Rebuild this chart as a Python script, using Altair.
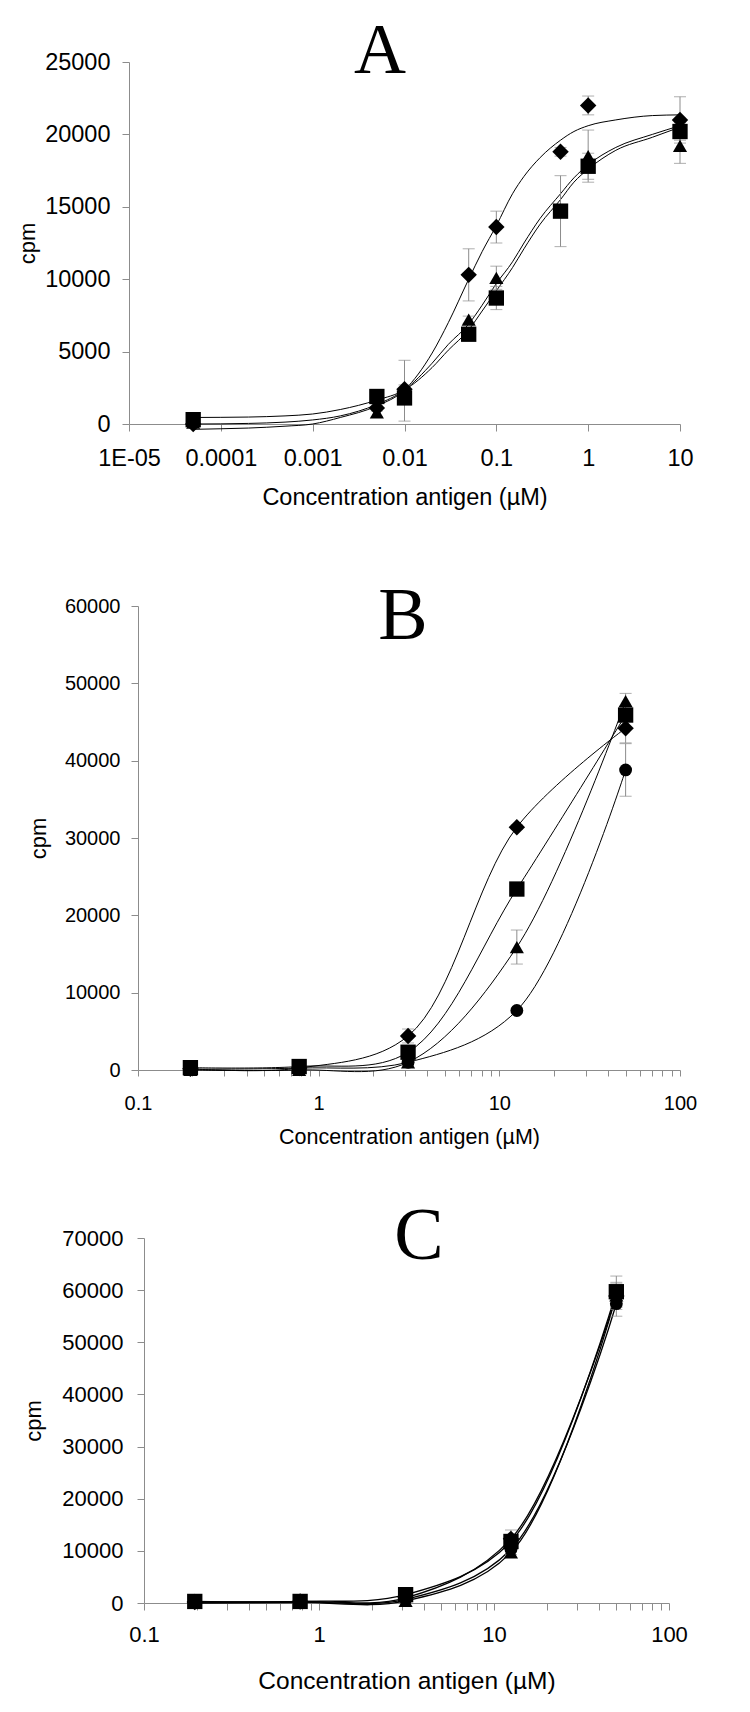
import altair as alt
import pandas as pd

FONT = "Liberation Sans"
SERIF = "Liberation Serif"
AXIS_GRAY = "#8c8c8c"
ERR_GRAY = "#8c8c8c"
INK = "#000000"
X_TITLE = "Concentration antigen (µM)"
Y_TITLE = "cpm"

SERIES = ["diamond", "square", "triangle", "circle"]
SHAPES = ["diamond", "square", "triangle-up", "circle"]

# ---------------- Panel A ----------------
A_CONC = [5e-5, 0.005, 0.01, 0.05, 0.1, 0.5, 1, 10]
A_DIAMOND = [0, 1100, 2400, 10300, 13600, 18800, 22000, 21000]
A_DIAMOND_ERR = [0, 200, 300, 1800, 1100, 300, 650, 1600]
A_TRIANGLE = [100, 800, 2300, 7200, 10100, 14800, 18500, 19200]
A_TRIANGLE_ERR = [0, 300, 2100, 250, 800, 300, 1800, 1200]
A_SQUARE = [300, 1900, 1800, 6200, 8700, 14700, 17800, 20200]
A_SQUARE_ERR = [100, 200, 300, 300, 800, 2450, 900, 600]

A_FIT_CONC = [5e-5, 1e-4, 2e-4, 5e-4, 1e-3, 2e-3, 5e-3, 0.01, 0.02, 0.03, 0.05,
              0.07, 0.1, 0.15, 0.2, 0.3, 0.5, 0.7, 1, 2, 5, 10]
A_FIT_DIAMOND = [-370, -330, -280, -150, 0, 450, 1250, 2350, 4900, 7000, 10000,
                 11900, 13700, 15900, 17100, 18400, 19600, 20200, 20600, 21000, 21300, 21350]
A_FIT_TRIANGLE = [0, 10, 40, 130, 280, 560, 1350, 2350, 4200, 5500, 6900,
                  8200, 9700, 11200, 12500, 14200, 15900, 17000, 17900, 19100, 20000, 20600]
A_FIT_SQUARE = [450, 460, 480, 560, 690, 1000, 1650, 2350, 3900, 5100, 6500,
                7800, 9200, 10800, 12100, 13800, 15500, 16700, 17600, 18900, 19800, 20500]

A_X_TICKS = [1e-5, 1e-4, 1e-3, 0.01, 0.1, 1, 10]
A_X_LABELS = ["1E-05", "0.0001", "0.001", "0.01", "0.1", "1", "10"]
A_Y_TICKS = [0, 5000, 10000, 15000, 20000, 25000]

# ---------------- Panel B ----------------
B_CONC = [0.195, 0.78, 3.125, 12.5, 50]
B_DIAMOND = [150, 250, 4400, 31400, 44200]
B_DIAMOND_ERR = [0, 0, 900, 300, 1900]
B_SQUARE = [300, 450, 2300, 23400, 45900]
B_SQUARE_ERR = [0, 0, 700, 400, 500]
B_TRIANGLE = [0, 0, 1000, 15900, 47700]
B_TRIANGLE_ERR = [0, 0, 300, 2200, 1000]
B_CIRCLE = [100, 250, 1000, 7700, 38800]
B_CIRCLE_ERR = [0, 0, 200, 300, 3400]
B_Y_TICKS = [0, 10000, 20000, 30000, 40000, 50000, 60000]

# ---------------- Panel C ----------------
C_CONC = [0.195, 0.78, 3.125, 12.5, 50]
C_DIAMOND = [200, 300, 1000, 12300, 58900]
C_DIAMOND_ERR = [0, 0, 0, 1700, 2600]
C_SQUARE = [300, 300, 1600, 11800, 59700]
C_SQUARE_ERR = [0, 0, 0, 500, 3000]
C_TRIANGLE = [0, 100, 400, 9700, 59000]
C_TRIANGLE_ERR = [0, 0, 0, 400, 2200]
C_CIRCLE = [100, 200, 700, 10300, 57400]
C_CIRCLE_ERR = [0, 0, 0, 400, 2400]
C_Y_TICKS = [0, 10000, 20000, 30000, 40000, 50000, 60000, 70000]

LOG_TICKS = [0.1, 0.2, 0.3, 0.4, 0.5, 0.6, 0.7, 0.8, 0.9,
             1, 2, 3, 4, 5, 6, 7, 8, 9,
             10, 20, 30, 40, 50, 60, 70, 80, 90, 100]
LOG_LABELED = [0.1, 1, 10, 100]
LOG_LABELS = ["0.1", "1", "10", "100"]


def label_expr(values, labels):
    parts = [f"datum.value == {v} ? '{l}'" for v, l in zip(values, labels)]
    return " : ".join(parts) + " : ''"


def points_frame(conc, series):
    rows = []
    for name, (vals, errs) in series.items():
        for c, v, e in zip(conc, vals, errs):
            rows.append({"conc": c, "cpm": v, "lo": v - e, "hi": v + e,
                         "err": e, "series": name})
    return pd.DataFrame(rows)


def curve_frame(conc, series):
    rows = []
    for name, vals in series.items():
        for c, v in zip(conc, vals):
            rows.append({"conc": c, "cpm": v, "series": name})
    return pd.DataFrame(rows)


def make_panel(pts, curves, interp, x_dom, x_range, x_ticks, x_expr, y_dom,
               y_range, y_ticks, width, height, letter, letter_x, letter_y,
               letter_fs, fs, tfs, xlab_pad, xtitle_pad, ylab_pad, ytitle_pad,
               y_offset, tick_size, msizes, lw):
    xs = alt.Scale(type="log", domain=x_dom, range=x_range, nice=False)
    ys = alt.Scale(domain=y_dom, range=y_range, nice=False, zero=False)
    x_axis = alt.Axis(values=x_ticks, labelExpr=x_expr, title=X_TITLE,
                      labelFontSize=fs, titleFontSize=tfs, labelPadding=xlab_pad,
                      titlePadding=xtitle_pad, tickSize=tick_size,
                      labelOverlap=False, labelBound=False, labelFlush=False)
    y_axis = alt.Axis(values=y_ticks, format="d", title=Y_TITLE,
                      labelFontSize=fs, titleFontSize=22, labelPadding=ylab_pad,
                      titlePadding=ytitle_pad, tickSize=7, offset=y_offset,
                      labelOverlap=False, labelFlush=False)

    def X():
        return alt.X("conc:Q", scale=xs, axis=x_axis, title=X_TITLE)

    def Y(field):
        return alt.Y(field, scale=ys, axis=y_axis, title=Y_TITLE)

    line = alt.Chart(curves).mark_line(color=INK, strokeWidth=lw,
                                       interpolate=interp).encode(
        x=X(), y=Y("cpm:Q"), detail="series:N",
    )
    errs = pts[pts["err"] > 0]
    rule = alt.Chart(errs).mark_rule(color=ERR_GRAY, strokeWidth=1).encode(
        x=X(), y=Y("lo:Q"), y2="hi:Q",
    )
    cap_lo = alt.Chart(errs).mark_tick(orient="horizontal", size=12,
                                       thickness=1, color=ERR_GRAY).encode(
        x=X(), y=Y("lo:Q"),
    )
    cap_hi = alt.Chart(errs).mark_tick(orient="horizontal", size=12,
                                       thickness=1, color=ERR_GRAY).encode(
        x=X(), y=Y("hi:Q"),
    )
    marks = alt.Chart(pts).mark_point(filled=True, opacity=1, color=INK,
                                      strokeWidth=0).encode(
        x=X(), y=Y("cpm:Q"),
        shape=alt.Shape("series:N", scale=alt.Scale(domain=SERIES, range=SHAPES),
                        legend=None),
        size=alt.Size("series:N", scale=alt.Scale(domain=SERIES, range=msizes),
                      legend=None),
    )
    text = alt.Chart(pd.DataFrame({"letter": [letter]})).mark_text(
        font=SERIF, fontSize=letter_fs, align="center", baseline="alphabetic",
        color=INK).encode(text="letter:N", x=alt.value(letter_x),
                          y=alt.value(letter_y))
    return alt.layer(line, rule, cap_lo, cap_hi, marks, text).properties(
        width=width, height=height)


ptsA = points_frame(A_CONC, {
    "diamond": (A_DIAMOND, A_DIAMOND_ERR),
    "triangle": (A_TRIANGLE, A_TRIANGLE_ERR),
    "square": (A_SQUARE, A_SQUARE_ERR),
})
curA = curve_frame(A_FIT_CONC, {
    "diamond": A_FIT_DIAMOND,
    "triangle": A_FIT_TRIANGLE,
    "square": A_FIT_SQUARE,
})
ptsB = points_frame(B_CONC, {
    "circle": (B_CIRCLE, B_CIRCLE_ERR),
    "triangle": (B_TRIANGLE, B_TRIANGLE_ERR),
    "square": (B_SQUARE, B_SQUARE_ERR),
    "diamond": (B_DIAMOND, B_DIAMOND_ERR),
})
ptsC = points_frame(C_CONC, {
    "circle": (C_CIRCLE, C_CIRCLE_ERR),
    "triangle": (C_TRIANGLE, C_TRIANGLE_ERR),
    "diamond": (C_DIAMOND, C_DIAMOND_ERR),
    "square": (C_SQUARE, C_SQUARE_ERR),
})

# sizes in order: diamond, square, triangle, circle
panelA = make_panel(ptsA, curA, "monotone", [1e-5, 10], [0, 551], A_X_TICKS,
                    label_expr(A_X_TICKS, A_X_LABELS), [0, 25000], [362, 0],
                    A_Y_TICKS, 551, 362, "A", 251, 11, 72,
                    23.5, 23.5, 15, 16, 12, 5, 0, 7, [270, 165, 210, 165], 1)
panelB = make_panel(ptsB, ptsB[["conc", "cpm", "series"]], "catmull-rom",
                    [0.1, 100], [9, 551], LOG_TICKS,
                    label_expr(LOG_LABELED, LOG_LABELS), [0, 60000], [478, 14],
                    B_Y_TICKS, 551, 478, "B", 274, 47, 74,
                    20, 21.5, 17, 13, 11, 14, -9, 6, [240, 145, 180, 150], 1)
panelC = make_panel(ptsC, ptsC[["conc", "cpm", "series"]], "catmull-rom",
                    [0.1, 100], [15, 540], LOG_TICKS,
                    label_expr(LOG_LABELED, LOG_LABELS), [0, 70000], [365, 0],
                    C_Y_TICKS, 540, 365, "C", 290, 21, 74,
                    22, 24.5, 14, 24, 14, 16, -15, 7, [220, 130, 165, 135], 1.3)

chart = alt.vconcat(panelA, panelB, panelC, spacing=168, bounds="flush").properties(
    padding={"left": 8, "top": 7, "right": 20, "bottom": 10},
    background="white",
).configure_view(stroke=None).configure_axis(
    labelFont=FONT, titleFont=FONT, titleFontWeight="normal",
    domainColor=AXIS_GRAY, tickColor=AXIS_GRAY, domainWidth=1, tickWidth=1,
    labelColor=INK, titleColor=INK, grid=False,
)

chart.save("out.html", embed_options={"renderer": "svg", "actions": False})
